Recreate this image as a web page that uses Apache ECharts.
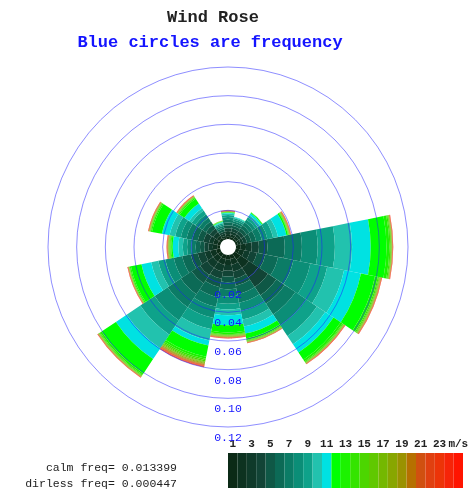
<!DOCTYPE html>
<html>
<head>
<meta charset="utf-8">
<title>Wind Rose</title>
<script src="https://cdn.jsdelivr.net/npm/echarts@6/dist/echarts.min.js"></script>
<style>
  html, body { margin: 0; padding: 0; background: #fff; }
  #rose { width: 475px; height: 496px; }
</style>
</head>
<body>
<div id="rose"></div>
<script>
  // directions, clockwise from north
  var directions = ['N', 'NNE', 'NE', 'ENE', 'E', 'ESE', 'SE', 'SSE', 'S', 'SSW', 'SW', 'WSW', 'W', 'WNW', 'NW', 'NNW'];
  // speed bins 1..25 m/s
  var speedBins = ['1','2','3','4','5','6','7','8','9','10','11','12','13','14','15','16','17','18','19','20','21','22','23','24','25'];
  var barTicks = ['1', '3', '5', '7', '9', '11', '13', '15', '17', '19', '21', '23', 'm/s'];
  var freqTicks = [0.02, 0.04, 0.06, 0.08, 0.10, 0.12];
  var calmFreq = '0.013399';
  var dirlessFreq = '0.000447';

  var speedColors = ['#0b2a16','#0d3220','#0f3a2a','#124436','#0f5846','#0c6a56','#0b7c66','#0b8e77','#0ea28a','#22c2ae',
                     '#00e2e2','#00ff00','#1cf200','#34e400','#4cd600','#60c800','#74b800','#88a600','#9a9200','#b67000',
                     '#d05010','#e04010','#ec3408','#f62408','#ff1400'];

  // frequency of each speed bin (1..25) per direction
  var freqN   = [0.0015,0.002,0.002,0.002,0.002,0.002,0.002,0.0018,0.0015,0.001,0.0005,0.0003,0.0002,0.0001,0.0001,0.0001,0.0001,0.0001,0.0001,0.0001,0.0001,0.0001,0.0001,0.0001,0.0001];
  var freqNNE = [0.0015,0.002,0.002,0.002,0.002,0.0018,0.0015,0.0012,0.001,0.0006,0.0003,0.0001,0,0,0,0,0,0,0,0,0,0,0,0,0];
  var freqNE  = [0.0015,0.002,0.002,0.0022,0.0024,0.0025,0.0025,0.0024,0.002,0.0018,0.0015,0.0005,0.0002,0.0001,0,0,0,0,0,0,0,0,0,0,0];
  var freqENE = [0.0015,0.002,0.002,0.0025,0.003,0.0035,0.004,0.004,0.004,0.0035,0.006,0.001,0.0004,0.0002,0.0002,0.0002,0.0002,0.0002,0.0002,0.0002,0.0001,0.0001,0.0001,0.0001,0.0001];
  var freqE   = [0.003,0.004,0.004,0.005,0.006,0.012,0.012,0.011,0.012,0.012,0.013,0.011,0.002,0.0008,0.0005,0.0003,0.0002,0.0002,0.0001,0.0001,0.0001,0.0001,0.0001,0.0001,0.0001];
  var freqESE = [0.0025,0.0035,0.004,0.005,0.006,0.009,0.011,0.012,0.012,0.012,0.012,0.01,0.002,0.0008,0.0005,0.0004,0.0003,0.0002,0.0002,0.0002,0.0001,0.0001,0.0001,0.0001,0.0001];
  var freqSE  = [0.005,0.007,0.008,0.008,0.007,0.007,0.009,0.009,0.009,0.007,0.007,0.006,0.0015,0.0006,0.0004,0.0003,0.0002,0.0002,0.0001,0.0001,0.0001,0.0001,0.0001,0.0001,0.0001];
  var freqSSE = [0.003,0.004,0.005,0.005,0.005,0.006,0.006,0.006,0.006,0.005,0.005,0.0035,0.001,0.0006,0.0004,0.0003,0.0002,0.0002,0.0001,0.0001,0.0001,0.0001,0.0001,0.0001,0.0001];
  var freqS   = [0.003,0.004,0.004,0.004,0.004,0.005,0.005,0.005,0.004,0.004,0.007,0.005,0.0012,0.0006,0.0004,0.0003,0.0003,0.0003,0.0002,0.0002,0.0002,0.0002,0.0001,0.0001,0.0001];
  var freqSSW = [0.003,0.004,0.005,0.005,0.006,0.007,0.007,0.008,0.008,0.008,0.0035,0.008,0.0015,0.001,0.0008,0.0006,0.0005,0.0005,0.0005,0.0004,0.0004,0.0004,0.0003,0.0003,0.0003];
  var freqSW  = [0.003,0.004,0.005,0.006,0.007,0.009,0.011,0.011,0.012,0.0115,0.009,0.012,0.0012,0.0006,0.0004,0.0003,0.0002,0.0002,0.0001,0.0001,0.0001,0.0001,0.0001,0.0001,0.0001];
  var freqWSW = [0.003,0.004,0.004,0.005,0.005,0.006,0.006,0.006,0.005,0.005,0.007,0.0075,0.0008,0.0004,0.0002,0.0002,0.0001,0.0001,0.0001,0.0001,0.0001,0.0001,0.0001,0.0001,0.0001];
  var freqW   = [0.002,0.003,0.003,0.003,0.003,0.003,0.003,0.003,0.003,0.003,0.004,0.001,0.0006,0.0005,0.0004,0.0003,0.0003,0.0002,0.0002,0.0002,0.0002,0.0001,0.0001,0.0001,0.0001];
  var freqWNW = [0.002,0.003,0.003,0.004,0.004,0.004,0.004,0.004,0.004,0.004,0.0055,0.007,0.0008,0.0004,0.0003,0.0002,0.0002,0.0002,0.0001,0.0001,0.0001,0.0001,0.0001,0.0001,0.0001];
  var freqNW  = [0.002,0.002,0.003,0.003,0.003,0.003,0.003,0.003,0.003,0.002,0.004,0.004,0.0008,0.0004,0.0003,0.0002,0.0002,0.0002,0.0001,0.0001,0.0001,0.0001,0.0001,0.0001,0.0001];
  var freqNNW = [0.001,0.0015,0.0015,0.0015,0.0015,0.0013,0.0012,0.001,0.0008,0.0006,0.0004,0.0003,0.0002,0.0002,0.0001,0.0001,0,0,0,0,0,0,0,0,0];

  var rows = [freqN, freqNNE, freqNE, freqENE, freqE, freqESE, freqSE, freqSSE,
              freqS, freqSSW, freqSW, freqWSW, freqW, freqWNW, freqNW, freqNNW];

  var mono = 'Liberation Mono';
  var circleColor = 'rgba(30,30,255,0.5)';

  var series = [];
  for (var k = 0; k < speedBins.length; k++) {
    series.push({
      name: speedBins[k],
      type: 'bar',
      coordinateSystem: 'polar',
      polarIndex: 0,
      stack: 'rose',
      barCategoryGap: '0%',
      silent: true,
      itemStyle: { color: speedColors[k] },
      data: rows.map(function (r) { return r[k]; })
    });
  }

  // colour key
  series.push({
    type: 'bar',
    xAxisIndex: 0,
    yAxisIndex: 0,
    barCategoryGap: '0%',
    silent: true,
    data: speedBins.map(function (s, i) {
      return { value: 1, itemStyle: { color: speedColors[i] } };
    })
  });

  var myChart = echarts.init(document.getElementById('rose'));

  var option = {
    backgroundColor: '#fff',
    animation: false,
    title: [
      {
        text: 'Wind Rose', left: 213, top: 9, padding: 0, textAlign: 'center',
        textStyle: { fontFamily: mono, fontWeight: 'bold', fontSize: 17, color: '#222' }
      },
      {
        text: 'Blue circles are frequency', left: 210, top: 34, padding: 0, textAlign: 'center',
        textStyle: { fontFamily: mono, fontWeight: 'bold', fontSize: 17, color: '#1414ff' }
      },
      {
        text: 'calm freq= ' + calmFreq, left: 177, top: 462, padding: 0, textAlign: 'right',
        textStyle: { fontFamily: mono, fontWeight: 'normal', fontSize: 11.5, color: '#222' }
      },
      {
        text: 'dirless freq= ' + dirlessFreq, left: 177, top: 478, padding: 0, textAlign: 'right',
        textStyle: { fontFamily: mono, fontWeight: 'normal', fontSize: 11.5, color: '#222' }
      }
    ],
    polar: [
      { center: [228, 247], radius: [8, 180] },
      { center: [228, 247], radius: [8, 180] }
    ],
    angleAxis: [
      {
        polarIndex: 0, type: 'category', data: directions,
        startAngle: 101.25, clockwise: true,
        axisLine: { show: false }, axisTick: { show: false },
        axisLabel: { show: false }, splitLine: { show: false }
      },
      {
        polarIndex: 1, type: 'value', min: 0, max: 360, startAngle: 270,
        axisLine: { show: false }, axisTick: { show: false },
        axisLabel: { show: false }, splitLine: { show: false }
      }
    ],
    radiusAxis: [
      {
        polarIndex: 0, type: 'value', min: 0, max: 0.12,
        axisLine: { show: false }, axisTick: { show: false },
        axisLabel: { show: false }, splitLine: { show: false }
      },
      {
        polarIndex: 1, type: 'value', min: 0, max: freqTicks[freqTicks.length - 1], interval: 0.02,
        zlevel: 1, z: 5,
        axisLine: { show: false }, axisTick: { show: false },
        axisLabel: {
          color: '#1414ff', fontFamily: mono, fontSize: 11.5,
          margin: 0, align: 'center', verticalAlign: 'top', padding: [5, 0, 0, 0],
          formatter: function (v) { return v === 0 ? '' : v.toFixed(2); }
        },
        splitLine: {
          show: true,
          lineStyle: {
            width: 1,
            color: ['rgba(0,0,0,0)'].concat(freqTicks.map(function () { return circleColor; }))
          }
        }
      }
    ],
    grid: { left: 228, top: 453, width: 235, height: 35 },
    xAxis: {
      type: 'category', data: speedBins, position: 'top',
      axisLine: { show: false }, axisTick: { show: false },
      axisLabel: {
        interval: 1, margin: 3, color: '#222', fontFamily: mono, fontWeight: 'bold', fontSize: 11,
        formatter: function (v, i) { return barTicks[i / 2]; }
      }
    },
    yAxis: { type: 'value', min: 0, max: 1, show: false },
    series: series
  };
  myChart.setOption(option);
</script>
</body>
</html>
